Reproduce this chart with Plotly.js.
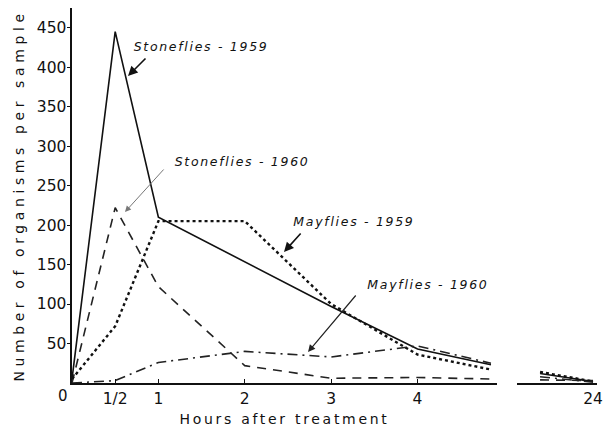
<!DOCTYPE html>
<html>
<head>
<meta charset="utf-8">
<script src="https://cdn.plot.ly/plotly-3.0.1.min.js"></script>
<style>html,body{margin:0;padding:0;background:#fff;}#chart{width:614px;height:427px;}</style>
</head>
<body>
<div id="chart"></div>
<script>
// Hours after treatment (main segment) and the broken-axis segment near 24 h
const hours = [0, 0.5, 1, 2, 3, 4, 4.85];
const hours24 = [22, 24];

const stoneflies1959 = [5, 445, 210, 153, 97, 43, 23];
const stoneflies1960 = [0, 222, 122, 22, 6, 7, 5];
const mayflies1959   = [5, 72, 205, 205, 100, 36, 17];
const mayflies1960   = [0, 3, 26, 40, 33, 47, 25];

const stoneflies1959_24 = [12, 2];
const stoneflies1960_24 = [4, 3];
const mayflies1959_24   = [14, 2];
const mayflies1960_24   = [8, 1];

const xTickVals = [0.5, 1, 2, 3, 4];
const xTickText = ['1/2', '1', '2', '3', '4'];
const yTickVals = [50, 100, 150, 200, 250, 300, 350, 400, 450];

const seriesNames = ['Stoneflies - 1959', 'Stoneflies - 1960', 'Mayflies - 1959', 'Mayflies - 1960'];
const styles = [
  {color: '#111', width: 1.6, dash: 'solid'},
  {color: '#222', width: 1.6, dash: '9px,7px'},
  {color: '#111', width: 2.4, dash: 'dot'},
  {color: '#222', width: 1.6, dash: '10px,5px,2px,5px'}
];
const main = [stoneflies1959, stoneflies1960, mayflies1959, mayflies1960];
const seg24 = [stoneflies1959_24, stoneflies1960_24, mayflies1959_24, mayflies1960_24];

const traces = [];
main.forEach((ys, i) => traces.push({x: hours, y: ys, name: seriesNames[i], mode: 'lines', line: styles[i], xaxis: 'x', yaxis: 'y', showlegend: false}));
seg24.forEach((ys, i) => traces.push({x: hours24, y: ys, name: seriesNames[i], mode: 'lines', line: styles[i], xaxis: 'x2', yaxis: 'y', showlegend: false}));

// pixel -> paper helpers for text placement (plot area: x 72..597, y 8..383)
const px = v => (v - 72) / 525;
const py = v => (383 - v) / 375;
const labFont = {family: 'DejaVu Sans', size: 12.5, color: '#111', style: 'italic'};

const annotations = [
  {text: 'Stoneflies - 1959', x: px(201), y: py(47)},
  {text: 'Stoneflies - 1960', x: px(242), y: py(162)},
  {text: 'Mayflies - 1959', x: px(354), y: py(221)},
  {text: 'Mayflies - 1960', x: px(428), y: py(284)}
].map(a => Object.assign(a, {xref: 'paper', yref: 'paper', showarrow: false, xanchor: 'center', yanchor: 'middle', font: labFont}));

const arrows = [
  {x: px(128), y: py(76), ax: 19, ay: -19, c: '#111', w: 1.6},
  {x: px(125), y: py(212), ax: 40, ay: -44, c: '#777', w: 1},
  {x: px(284), y: py(252), ax: 18, ay: -20, c: '#111', w: 1.6},
  {x: px(308), y: py(352), ax: 49, ay: -58, c: '#222', w: 1.2}
];
arrows.forEach(a => annotations.push({x: a.x, y: a.y, xref: 'paper', yref: 'paper', ax: a.ax, ay: a.ay, text: '', showarrow: true, arrowhead: 2, arrowsize: 1.2, arrowwidth: a.w, arrowcolor: a.c}));

annotations.push({text: '0', x: px(63), y: py(396), xref: 'paper', yref: 'paper', showarrow: false, xanchor: 'center', yanchor: 'middle', font: {family: 'DejaVu Sans', size: 15, color: '#111'}});

const tickFont = {family: 'DejaVu Sans', size: 15.5, color: '#111'};

const layout = {
  width: 614, height: 427,
  margin: {l: 72, r: 17, t: 8, b: 44},
  paper_bgcolor: '#fff', plot_bgcolor: '#fff',
  showlegend: false,
  xaxis: {
    domain: [0, (497 - 72) / 525], range: [0, 4.92],
    tickvals: xTickVals, ticktext: xTickText, ticks: 'inside', ticklen: 4, tickcolor: '#111',
    showline: true, linecolor: '#111', linewidth: 2, showgrid: false, zeroline: false,
    tickfont: tickFont,
    title: {text: 'Hours after treatment', font: {family: 'DejaVu Sans', size: 14, color: '#111'}, standoff: 10}
  },
  xaxis2: {
    domain: [(517 - 72) / 525, 1], range: [21.13, 24.15], anchor: 'y',
    tickvals: [24], ticktext: ['24'], ticks: '', showline: true, linecolor: '#111', linewidth: 2,
    showgrid: false, zeroline: false, tickfont: tickFont
  },
  yaxis: {
    range: [0, 475], tickvals: yTickVals, ticks: 'outside', ticklen: 3, tickcolor: '#111',
    showline: true, linecolor: '#111', linewidth: 2.5, showgrid: false, zeroline: false,
    tickfont: tickFont, ticklabelstandoff: -3,
    title: {text: 'Number of organisms per sample', font: {family: 'DejaVu Sans', size: 14, color: '#111'}, standoff: 9}
  },
  annotations: annotations
};

Plotly.newPlot('chart', traces, layout, {staticPlot: true}).then(() => {
  const setLS = (sel, v) => document.querySelectorAll(sel).forEach(t => t.style.letterSpacing = v);
  setLS('.g-xtitle text', '2.7px');
  setLS('.g-ytitle text', '4.6px');
  document.querySelectorAll('.annotation-text').forEach(t => {
    if (t.textContent.indexOf(' - ') > -1) t.style.letterSpacing = '1.7px';
  });
});
</script>
</body>
</html>
